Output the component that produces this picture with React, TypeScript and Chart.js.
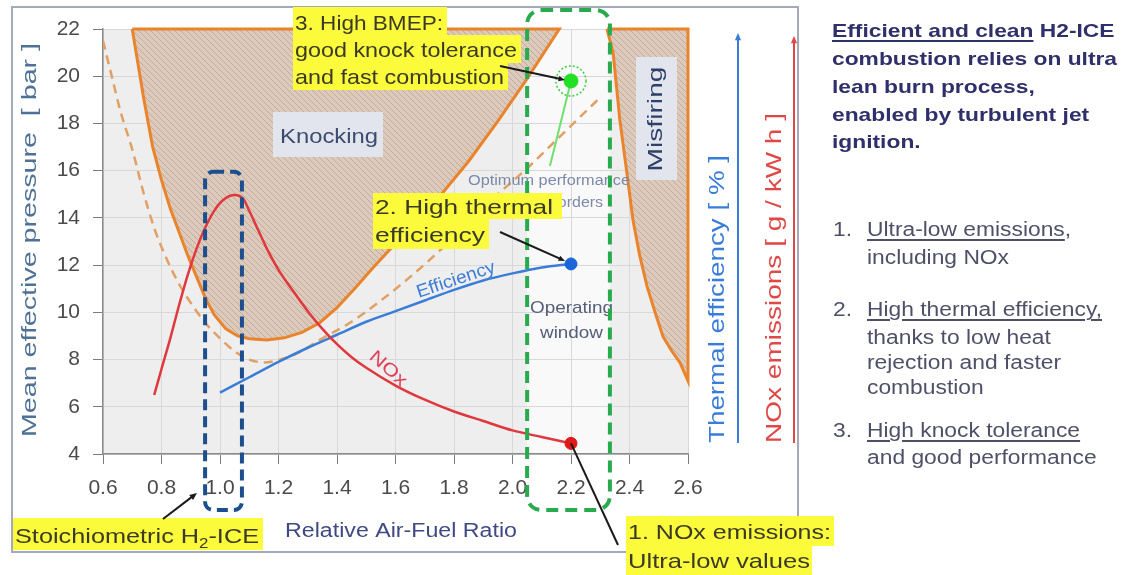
import React, { useEffect, useRef } from 'react';
import { Chart, registerables } from 'chart.js';

Chart.register(...registerables);

const FONT = '"Liberation Sans", Arial, Helvetica, sans-serif';

// ---- axes ----
const xTicks = [0.6, 0.8, 1.0, 1.2, 1.4, 1.6, 1.8, 2.0, 2.2, 2.4, 2.6];
const yTicks = [4, 6, 8, 10, 12, 14, 16, 18, 20, 22];

// ---- knocking region (closed outline) ----
const knockX = [0.70, 0.72, 0.74, 0.77, 0.80, 0.83, 0.86, 0.89, 0.92, 0.95, 0.98, 1.02, 1.06, 1.10, 1.16, 1.22, 1.28, 1.34, 1.40, 1.46, 1.52, 1.58, 1.65, 1.75, 1.85, 1.95, 2.05, 2.16, 0.70];
const knockY = [22, 20.5, 19.0, 17.0, 15.6, 14.4, 13.4, 12.4, 11.5, 10.6, 9.9, 9.3, 9.0, 8.88, 8.83, 8.92, 9.15, 9.55, 10.2, 11.0, 11.85, 12.65, 13.6, 14.9, 16.4, 18.1, 19.9, 22, 22];

// ---- misfiring region (closed outline) ----
const misfireX = [2.323, 2.60, 2.60, 2.573, 2.545, 2.515, 2.49, 2.46, 2.435, 2.412, 2.39, 2.367, 2.344, 2.323];
const misfireY = [22, 22, 7.1, 7.86, 8.35, 8.96, 9.9, 11.1, 12.4, 13.9, 16.0, 18.15, 21.0, 22];

// ---- dashed limit curve ----
const limitX = [0.60, 0.63, 0.66, 0.70, 0.74, 0.78, 0.82, 0.86, 0.90, 0.95, 1.00, 1.05, 1.10, 1.15, 1.20, 1.27, 1.35, 1.45, 1.55, 1.65, 1.75, 1.85, 1.95, 2.05, 2.15, 2.25, 2.30];
const limitY = [21.5, 20.0, 18.5, 16.9, 15.0, 13.4, 12.2, 11.2, 10.4, 9.55, 8.9, 8.35, 8.0, 7.88, 7.98, 8.3, 8.9, 9.6, 10.5, 11.5, 12.6, 13.8, 15.0, 16.1, 17.3, 18.5, 19.1];

// ---- NOx curve ----
const noxX = [0.775, 0.80, 0.83, 0.86, 0.89, 0.92, 0.95, 0.98, 1.01, 1.05, 1.08, 1.10, 1.13, 1.16, 1.20, 1.25, 1.30, 1.35, 1.40, 1.45, 1.50, 1.60, 1.70, 1.80, 1.90, 2.00, 2.10, 2.20];
const noxY = [6.5, 7.6, 8.9, 10.3, 11.6, 12.7, 13.6, 14.3, 14.75, 14.97, 14.8, 14.3, 13.5, 12.7, 11.8, 10.9, 10.05, 9.3, 8.65, 8.1, 7.65, 6.9, 6.3, 5.8, 5.4, 5.0, 4.72, 4.45];

// ---- efficiency curve ----
const effX = [1.0, 1.1, 1.2, 1.3, 1.4, 1.5, 1.6, 1.7, 1.8, 1.9, 2.0, 2.1, 2.2];
const effY = [6.6, 7.25, 7.9, 8.5, 9.05, 9.6, 10.05, 10.5, 10.95, 11.35, 11.65, 11.9, 12.05];

// ---- optimum performance pointer ----
const optX = [2.128, 2.2];
const optY = [16.2, 19.8];

// ---- highlighted points ----
const noxDot = [2.2, 4.45];
const effDot = [2.2, 12.05];
const bmepDot = [2.2, 19.8];

// ---- windows (x range, y range) ----
const stoichWinX = [0.949, 1.075];
const stoichWinY = [1.63, 15.95];
const opWinX = [2.05, 2.333];
const opWinY = [1.63, 22.8];

const pts = (xs: number[], ys: number[]) => xs.map((x, i) => ({ x, y: ys[i] }));

function makeHatch(): CanvasPattern | string {
  const c = document.createElement('canvas');
  c.width = 6;
  c.height = 6;
  const g = c.getContext('2d');
  if (!g) return '#d6c3b3';
  g.fillStyle = '#dccbbd';
  g.fillRect(0, 0, 6, 6);
  g.strokeStyle = '#c3aa97';
  g.lineWidth = 1;
  g.beginPath();
  g.moveTo(0, 0); g.lineTo(6, 6);
  g.moveTo(-3, 3); g.lineTo(3, 9);
  g.moveTo(3, -3); g.lineTo(9, 3);
  g.stroke();
  return g.createPattern(c, 'repeat') || '#d6c3b3';
}

function drawFit(ctx: CanvasRenderingContext2D, text: string, x: number, y: number, width: number, size: number, color: string, weight = 'normal') {
  ctx.save();
  ctx.font = `${weight} ${size}px ${FONT}`;
  const w = ctx.measureText(text).width || 1;
  ctx.translate(x, y);
  ctx.scale(width / w, 1);
  ctx.fillStyle = color;
  ctx.textAlign = 'left';
  ctx.textBaseline = 'alphabetic';
  ctx.fillText(text, 0, 0);
  ctx.restore();
}

function drawRot(ctx: CanvasRenderingContext2D, text: string, cx: number, cy: number, angle: number, width: number, size: number, color: string, weight = 'normal') {
  ctx.save();
  ctx.font = `${weight} ${size}px ${FONT}`;
  const w = ctx.measureText(text).width || 1;
  ctx.translate(cx, cy);
  ctx.rotate((angle * Math.PI) / 180);
  ctx.scale(width / w, 1);
  ctx.fillStyle = color;
  ctx.textAlign = 'center';
  ctx.textBaseline = 'middle';
  ctx.fillText(text, 0, 0);
  ctx.restore();
}

function arrow(ctx: CanvasRenderingContext2D, x0: number, y0: number, x1: number, y1: number, color: string, width: number, head: number) {
  ctx.save();
  ctx.strokeStyle = color;
  ctx.fillStyle = color;
  ctx.lineWidth = width;
  ctx.setLineDash([]);
  const a = Math.atan2(y1 - y0, x1 - x0);
  const ex = head > 0 ? x1 - Math.cos(a) * head * 0.8 : x1;
  const ey = head > 0 ? y1 - Math.sin(a) * head * 0.8 : y1;
  ctx.beginPath();
  ctx.moveTo(x0, y0);
  ctx.lineTo(ex, ey);
  ctx.stroke();
  if (head > 0) {
    ctx.beginPath();
    ctx.moveTo(x1, y1);
    ctx.lineTo(x1 - Math.cos(a - 0.4) * head, y1 - Math.sin(a - 0.4) * head);
    ctx.lineTo(x1 - Math.cos(a + 0.4) * head, y1 - Math.sin(a + 0.4) * head);
    ctx.closePath();
    ctx.fill();
  }
  ctx.restore();
}

function dashedRoundRect(ctx: CanvasRenderingContext2D, x0: number, y0: number, x1: number, y1: number, r: number, color: string, dash: number[]) {
  ctx.save();
  ctx.strokeStyle = color;
  ctx.lineWidth = 4;
  ctx.setLineDash(dash);
  ctx.beginPath();
  ctx.moveTo(x0 + r, y0);
  ctx.lineTo(x1 - r, y0);
  ctx.arcTo(x1, y0, x1, y0 + r, r);
  ctx.lineTo(x1, y1 - r);
  ctx.arcTo(x1, y1, x1 - r, y1, r);
  ctx.lineTo(x0 + r, y1);
  ctx.arcTo(x0, y1, x0, y1 - r, r);
  ctx.lineTo(x0, y0 + r);
  ctx.arcTo(x0, y0, x0 + r, y0, r);
  ctx.closePath();
  ctx.stroke();
  ctx.restore();
}

type HL = { text: string; box: number[]; base: number; tx: number; tw: number };

function highlight(ctx: CanvasRenderingContext2D, lines: HL[]) {
  ctx.save();
  ctx.fillStyle = '#fbfb3c';
  lines.forEach((l) => ctx.fillRect(l.box[0], l.box[1], l.box[2] - l.box[0], l.box[3] - l.box[1]));
  ctx.restore();
  lines.forEach((l) => drawFit(ctx, l.text, l.tx, l.base, l.tw, 21, '#3a3a26'));
}

const overlay = {
  id: 'overlay',
  beforeDraw(chart: any) {
    const { ctx, chartArea: a, scales } = chart;
    const x = scales.x;
    ctx.save();
    ctx.fillStyle = '#ffffff';
    ctx.fillRect(0, 0, chart.width, chart.height);
    ctx.strokeStyle = '#a6a9ba';
    ctx.lineWidth = 2;
    ctx.strokeRect(12, 7, 786, 545);
    ctx.fillStyle = '#eeeeee';
    ctx.fillRect(a.left, a.top, a.right - a.left, a.bottom - a.top);
    const w0 = x.getPixelForValue(opWinX[0]);
    const w1 = x.getPixelForValue(opWinX[1]);
    ctx.fillStyle = '#f9f9f9';
    ctx.fillRect(w0, a.top, w1 - w0, a.bottom - a.top);
    ctx.restore();
  },
  afterDatasetsDraw(chart: any) {
    const { ctx, scales } = chart;
    const px = (v: number) => scales.x.getPixelForValue(v);
    const py = (v: number) => scales.y.getPixelForValue(v);

    // region labels
    ctx.save();
    ctx.fillStyle = 'rgba(226,230,238,0.96)';
    ctx.fillRect(273, 112, 110, 45);
    ctx.fillRect(636, 57, 41, 123);
    ctx.restore();
    drawFit(ctx, 'Knocking', 280, 143, 98, 21, '#3b4d6e');
    drawRot(ctx, 'Misfiring', 656, 119, -90, 105, 21, '#2e4068');

    // curve labels
    drawRot(ctx, 'Efficiency', 456, 280, -18.5, 82, 18, '#3a7dd8');
    drawRot(ctx, 'NOx', 388, 369, 42, 44, 18, '#e0405a');
    drawFit(ctx, 'Optimum performance', 468, 185, 162, 14, '#7d89a8');
    drawFit(ctx, 'borders', 549, 207, 54, 14, '#7d89a8');
    drawFit(ctx, 'Operating', 530, 313, 83, 17, '#555e78');
    drawFit(ctx, 'window', 540, 338, 63, 17, '#555e78');

    // dotted circle around BMEP point
    ctx.save();
    ctx.strokeStyle = '#3ccf3c';
    ctx.lineWidth = 1.5;
    ctx.setLineDash([2, 2]);
    ctx.beginPath();
    ctx.arc(px(bmepDot[0]), py(bmepDot[1]), 15, 0, Math.PI * 2);
    ctx.stroke();
    ctx.restore();

    // windows
    dashedRoundRect(ctx, px(stoichWinX[0]), py(stoichWinY[1]), px(stoichWinX[1]), py(stoichWinY[0]), 8, '#1d4f8f', [11, 6]);
    dashedRoundRect(ctx, px(opWinX[0]), py(opWinY[1]), px(opWinX[1]), py(opWinY[0]), 14, '#2aaa4f', [12, 7]);

    // yellow call-outs
    highlight(ctx, [
      { text: '3. High BMEP:', box: [293, 7, 447, 35], base: 30, tx: 295, tw: 148 },
      { text: 'good knock tolerance', box: [293, 35, 521, 63], base: 57, tx: 295, tw: 222 },
      { text: 'and fast combustion', box: [293, 63, 508, 90], base: 84, tx: 295, tw: 209 },
    ]);
    highlight(ctx, [
      { text: '2. High thermal', box: [373, 193, 562, 219], base: 214, tx: 375, tw: 178 },
      { text: 'efficiency', box: [373, 219, 489, 249], base: 242, tx: 375, tw: 110 },
    ]);
    highlight(ctx, [
      { text: '1. NOx emissions:', box: [626, 516, 834, 546], base: 539, tx: 628, tw: 203 },
      { text: 'Ultra-low values', box: [626, 546, 812, 575], base: 568, tx: 628, tw: 182 },
    ]);
    // stoichiometric label with subscript
    ctx.save();
    ctx.fillStyle = '#fbfb3c';
    ctx.fillRect(13, 518, 250, 32);
    ctx.font = `normal 21px ${FONT}`;
    const p1 = 'Stoichiometric H';
    const p3 = '-ICE';
    const w1 = ctx.measureText(p1).width;
    const w3 = ctx.measureText(p3).width;
    ctx.font = `normal 14px ${FONT}`;
    const w2 = ctx.measureText('2').width;
    const k = 244 / (w1 + w2 + w3);
    ctx.translate(15, 543);
    ctx.scale(k, 1);
    ctx.fillStyle = '#3a3a26';
    ctx.textBaseline = 'alphabetic';
    ctx.font = `normal 21px ${FONT}`;
    ctx.fillText(p1, 0, 0);
    ctx.fillText(p3, w1 + w2, 0);
    ctx.font = `normal 14px ${FONT}`;
    ctx.fillText('2', w1, 5);
    ctx.restore();

    // pointers
    const gx = px(bmepDot[0]), gy = py(bmepDot[1]);
    const bx = px(effDot[0]), by = py(effDot[1]);
    const rx = px(noxDot[0]), ry = py(noxDot[1]);
    arrow(ctx, 500, 66, gx - 6, gy - 1, '#1a1a1a', 2, 7);
    arrow(ctx, 500, 232, bx - 6, by - 3, '#1a1a1a', 2, 7);
    arrow(ctx, 163, 519, 197, 493, '#1a1a1a', 2, 8);
    arrow(ctx, rx, ry, 618, 545, '#1a1a1a', 2, 0);

    // axis titles
    drawRot(ctx, 'Mean effective pressure  [ bar ]', 30, 240, -90, 394, 21, '#4f7195');
    drawFit(ctx, 'Relative Air-Fuel Ratio', 285, 537, 232, 20, '#3e4a82');

    // right-hand indicator arrows
    arrow(ctx, 738, 443, 738, 33, '#3a7dd8', 2, 8);
    arrow(ctx, 794, 443, 794, 36, '#e04848', 2, 8);
    drawRot(ctx, 'Thermal efficiency [ % ]', 718, 299, -90, 288, 22, '#3a7dd8');
    drawRot(ctx, 'NOx emissions [ g / kW h ]', 775, 278, -90, 330, 22, '#e04848');
  },
};

const T = {
  position: 'absolute' as const,
  whiteSpace: 'nowrap' as const,
  fontFamily: FONT,
  transformOrigin: 'left center',
};

function TextLine({ base, left, size, bold, color, scale, children }: any) {
  return (
    <div
      style={{
        ...T,
        left,
        top: base - 0.8465 * size,
        fontSize: size,
        lineHeight: `${size}px`,
        fontWeight: bold ? 700 : 400,
        color,
        transform: `scaleX(${scale})`,
      }}
    >
      {children}
    </div>
  );
}

const U: React.CSSProperties = {
  textDecoration: 'underline',
  textDecorationThickness: '1.5px',
  textUnderlineOffset: '3px',
};

export default function App() {
  const ref = useRef<HTMLCanvasElement>(null);

  useEffect(() => {
    const canvas = ref.current;
    if (!canvas) return;
    const hatch = makeHatch();
    const base = { pointRadius: 0, pointHoverRadius: 0, fill: false };
    const chart = new Chart(canvas, {
      type: 'line',
      data: {
        datasets: [
          { ...base, label: 'Knocking', data: pts(knockX, knockY), borderColor: '#e9842c', borderWidth: 3, backgroundColor: hatch as any, fill: 'shape', tension: 0, order: 10, clip: 6 } as any,
          { ...base, label: 'Misfiring', data: pts(misfireX, misfireY), borderColor: '#e9842c', borderWidth: 3, backgroundColor: hatch as any, fill: 'shape', tension: 0, order: 10, clip: 6 } as any,
          { ...base, label: 'Knock limit', data: pts(limitX, limitY), borderColor: '#e0a066', borderWidth: 2.5, borderDash: [9, 6], cubicInterpolationMode: 'monotone', order: 8 },
          { ...base, label: 'Efficiency', data: pts(effX, effY), borderColor: '#3a7dd8', borderWidth: 2.5, cubicInterpolationMode: 'monotone', order: 6 },
          { ...base, label: 'NOx', data: pts(noxX, noxY), borderColor: '#e0383c', borderWidth: 2.5, cubicInterpolationMode: 'monotone', order: 5 },
          { ...base, label: 'Optimum', data: pts(optX, optY), borderColor: '#6fe06f', borderWidth: 2, order: 4 },
          { label: 'NOx point', data: [{ x: noxDot[0], y: noxDot[1] }], showLine: false, pointRadius: 6, pointBackgroundColor: '#e01818', pointBorderColor: '#e01818', order: 1 },
          { label: 'Efficiency point', data: [{ x: effDot[0], y: effDot[1] }], showLine: false, pointRadius: 6, pointBackgroundColor: '#1a66d8', pointBorderColor: '#1a66d8', order: 1 },
          { label: 'BMEP point', data: [{ x: bmepDot[0], y: bmepDot[1] }], showLine: false, pointRadius: 7, pointBackgroundColor: '#22e022', pointBorderColor: '#22e022', order: 1 },
        ],
      },
      options: {
        responsive: false,
        devicePixelRatio: 1,
        animation: false,
        events: [],
        layout: { padding: { left: 0, top: 29, right: 443, bottom: 0 }, autoPadding: false },
        plugins: { legend: { display: false }, tooltip: { enabled: false } },
        scales: {
          x: {
            type: 'linear',
            min: 0.6,
            max: 2.6,
            afterFit: (s: any) => { s.height = 121; },
            afterBuildTicks: (s: any) => { s.ticks = xTicks.map((v) => ({ value: v })); },
            ticks: {
              callback: (v: any) => Number(v).toFixed(1),
              font: { family: FONT, size: 21 },
              color: '#4a4a4a',
              padding: 12,
              maxRotation: 0,
              autoSkip: false,
            },
            grid: { color: '#d8d8d8', tickColor: '#7a7a7a', tickLength: 10, lineWidth: 1 },
            border: { color: '#8a8a8a', width: 1.5 },
          },
          y: {
            type: 'linear',
            min: 4,
            max: 22,
            afterFit: (s: any) => { s.width = 103; },
            afterBuildTicks: (s: any) => { s.ticks = yTicks.map((v) => ({ value: v })); },
            ticks: {
              font: { family: FONT, size: 21 },
              color: '#4a4a4a',
              padding: 13,
              autoSkip: false,
            },
            grid: { color: '#d8d8d8', tickColor: '#7a7a7a', tickLength: 10, lineWidth: 1 },
            border: { color: '#8a8a8a', width: 1.5 },
          },
        },
      },
      plugins: [overlay],
    } as any);
    return () => chart.destroy();
  }, []);

  const navy = '#2f2f6a';
  const grey = '#4f5068';
  const bs = 1.2; // horizontal stretch of bold block
  const ls = 1.17; // horizontal stretch of list
  return (
    <div style={{ position: 'fixed', left: 0, top: 0, width: 1131, height: 575, background: '#ffffff', overflow: 'hidden' }}>
      <canvas ref={ref} width={1131} height={575} style={{ position: 'absolute', left: 0, top: 0, width: 1131, height: 575 }} />
      <TextLine base={37} left={832} size={19} bold color={navy} scale={bs}><span style={U}>Efficient and clean</span> H2-ICE</TextLine>
      <TextLine base={65} left={832} size={19} bold color={navy} scale={bs}>combustion relies on ultra</TextLine>
      <TextLine base={93} left={832} size={19} bold color={navy} scale={bs}>lean burn process,</TextLine>
      <TextLine base={121} left={832} size={19} bold color={navy} scale={bs}>enabled by turbulent jet</TextLine>
      <TextLine base={148} left={832} size={19} bold color={navy} scale={bs}>ignition.</TextLine>

      <TextLine base={237} left={833} size={19.5} color={grey} scale={ls}>1.</TextLine>
      <TextLine base={237} left={867} size={19.5} color={grey} scale={ls}><span style={U}>Ultra-low emissions</span>,</TextLine>
      <TextLine base={265} left={867} size={19.5} color={grey} scale={ls}>including NOx</TextLine>

      <TextLine base={317} left={833} size={19.5} color={grey} scale={ls}>2.</TextLine>
      <TextLine base={317} left={867} size={19.5} color={grey} scale={ls}><span style={U}>High thermal efficiency,</span></TextLine>
      <TextLine base={345} left={867} size={19.5} color={grey} scale={ls}>thanks to low heat</TextLine>
      <TextLine base={370} left={867} size={19.5} color={grey} scale={ls}>rejection and faster</TextLine>
      <TextLine base={395} left={867} size={19.5} color={grey} scale={ls}>combustion</TextLine>

      <TextLine base={438} left={833} size={19.5} color={grey} scale={ls}>3.</TextLine>
      <TextLine base={438} left={867} size={19.5} color={grey} scale={ls}><span style={U}>High knock tolerance</span></TextLine>
      <TextLine base={465} left={867} size={19.5} color={grey} scale={ls}>and good performance</TextLine>
    </div>
  );
}
